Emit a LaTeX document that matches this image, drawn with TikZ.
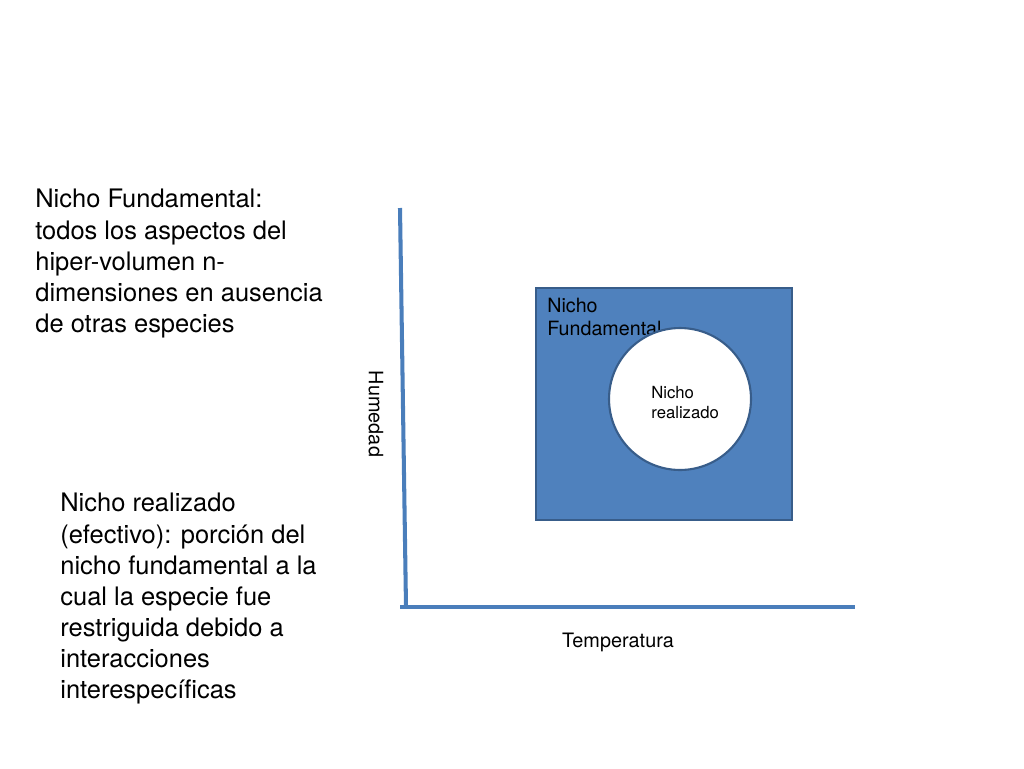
\documentclass[tikz,border=0pt]{standalone}
\usepackage{fontspec}
\setmainfont{TeX Gyre Heros}
\usepackage{tikz}
\definecolor{ejeazul}{HTML}{4A7EBB}
\definecolor{nichoazul}{HTML}{4F81BD}
\definecolor{bordeazul}{HTML}{385D8A}
\tikzstyle{eje} = [draw=ejeazul, line width=2.3pt]
\tikzstyle{texto} = [inner sep=0pt, align=left, anchor=north west]

\begin{document}
\begin{tikzpicture}[x=0.02cm, y=-0.02cm]
    % estilos
    \tikzstyle{caja} = [draw=bordeazul, fill=nichoazul, line width=1.2pt, minimum width=5.12cm, minimum height=4.64cm, inner sep=0pt]
    \tikzstyle{circulo} = [draw=bordeazul, fill=white, circle, line width=1.2pt, minimum size=2.84cm, inner sep=0pt]
    \useasboundingbox (0,0) rectangle (1024,768);

    % textos de la izquierda
    \node [texto, font=\fontsize{14.5}{17.7}\selectfont] (fundamentaltxt) at (35,189) {Nicho Fundamental:\\todos los aspectos del\\hiper-volumen n-\\dimensiones en ausencia\\de otras especies};
    \node [texto, font=\fontsize{14.5}{17.7}\selectfont] (realizadotxt) at (60,493) {Nicho realizado\\(efectivo): porción del\\nicho fundamental a la\\cual la especie fue\\restriguida debido a\\interacciones\\interespecíficas};

    % ejes
    \coordinate (arriba) at (400,208);
    \coordinate (esquina) at (406,607);
    \coordinate (inicio) at (400,607);
    \coordinate (derecha) at (855,607);
    \draw [eje] (arriba) -- (esquina);
    \draw [eje] (inicio) -- (derecha);
    \node [rotate=-90, font=\fontsize{11.3}{13.5}\selectfont] (humedad) at (376,414) {Humedad};
    \node [font=\fontsize{11.3}{13.5}\selectfont] (temperatura) at (618,642) {Temperatura};

    % nichos
    \node [caja] (fundamental) at (664,404) {};
    \node [texto, font=\fontsize{11.2}{13.2}\selectfont] (fundamentallbl) at (547,298) {Nicho\\Fundamental};
    \node [circulo] (realizado) at (680,399) {};
    \node [texto, font=\fontsize{9.5}{11.3}\selectfont] (realizadolbl) at (651,386) {Nicho\\realizado};
\end{tikzpicture}
\end{document}
